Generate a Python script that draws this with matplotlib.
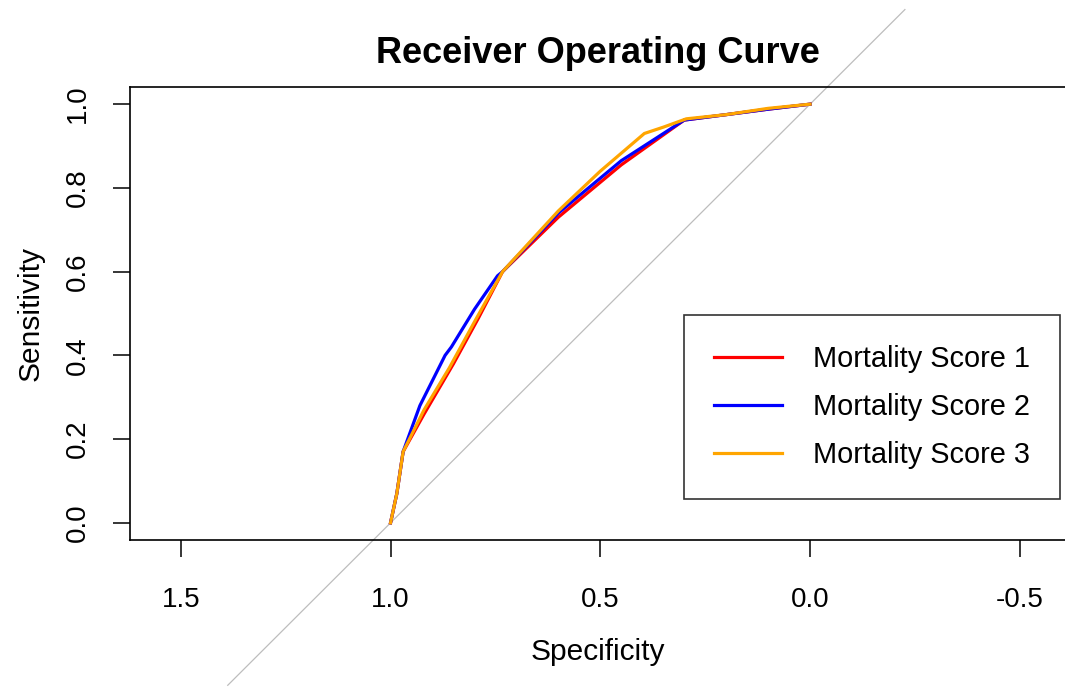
import numpy as np
import matplotlib
matplotlib.use("Agg")
import matplotlib.pyplot as plt

plt.rcParams['font.family'] = ['Liberation Sans', 'DejaVu Sans']

# ROC curves (specificity, sensitivity)
spec1 = [1.0, 0.985, 0.97, 0.92, 0.85, 0.79, 0.733, 0.60, 0.45, 0.30, 0.20, 0.10, 0.0]
sens1 = [0.0, 0.07, 0.17, 0.26, 0.38, 0.49, 0.60, 0.73, 0.855, 0.962, 0.975, 0.988, 1.0]

spec2 = [1.0, 0.985, 0.97, 0.93, 0.87, 0.855, 0.80, 0.745, 0.733, 0.60, 0.45, 0.30, 0.20, 0.10, 0.0]
sens2 = [0.0, 0.07, 0.17, 0.28, 0.40, 0.42, 0.51, 0.59, 0.60, 0.74, 0.865, 0.962, 0.975, 0.988, 1.0]

spec3 = [1.0, 0.985, 0.97, 0.92, 0.86, 0.80, 0.733, 0.60, 0.50, 0.395, 0.35, 0.295, 0.20, 0.10, 0.0]
sens3 = [0.0, 0.07, 0.17, 0.27, 0.37, 0.48, 0.60, 0.745, 0.84, 0.93, 0.945, 0.965, 0.975, 0.99, 1.0]

labels = ["Mortality Score 1", "Mortality Score 2", "Mortality Score 3"]
colors = ["red", "blue", "orange"]

xticks = [1.5, 1.0, 0.5, 0.0, -0.5]
yticks = [0.0, 0.2, 0.4, 0.6, 0.8, 1.0]

W, H = 1065, 687
fig = plt.figure(figsize=(W / 100, H / 100), dpi=100)
ax = fig.add_axes([130 / W, 1 - 540 / H, 936 / W, 453 / H])

# chance diagonal, drawn past the plot box as R's abline does
ax.plot([1.388, -0.226], [-0.388, 1.226], color="#bdbdbd", lw=0.9, clip_on=False, zorder=1)

for s, t, c, lab in zip([spec1, spec2, spec3], [sens1, sens2, sens3], colors, labels):
    ax.plot(s, t, color=c, lw=2.3, label=lab, zorder=3)

ax.set_xlim(1.621, -0.610)
ax.set_ylim(-0.041, 1.041)
ax.set_xticks(xticks)
ax.set_xticklabels([f"{v:.1f}" for v in xticks])
ax.set_yticks(yticks)
ax.set_yticklabels([f"{v:.1f}" for v in yticks], rotation=90, va="center")
ax.tick_params(length=12, width=1.1, labelsize=20)
ax.tick_params(axis="x", pad=22)
ax.tick_params(axis="y", pad=16.5)
for sp in ax.spines.values():
    sp.set_linewidth(1.2)

ax.set_xlabel("Specificity", fontsize=21.5, labelpad=18)
ax.set_ylabel("Sensitivity", fontsize=21.5, labelpad=14)
ax.set_title("Receiver Operating Curve", fontsize=26, fontweight="bold", pad=17)

leg = ax.legend(loc="center", bbox_to_anchor=(872 / W, 1 - 407 / H),
                bbox_transform=fig.transFigure, fontsize=20.8, frameon=True,
                fancybox=False, edgecolor="black", handlelength=2.35,
                handletextpad=1.05, borderpad=1.05, labelspacing=0.68)
leg.get_frame().set_linewidth(1.2)

fig.savefig("out.png", dpi=100)
